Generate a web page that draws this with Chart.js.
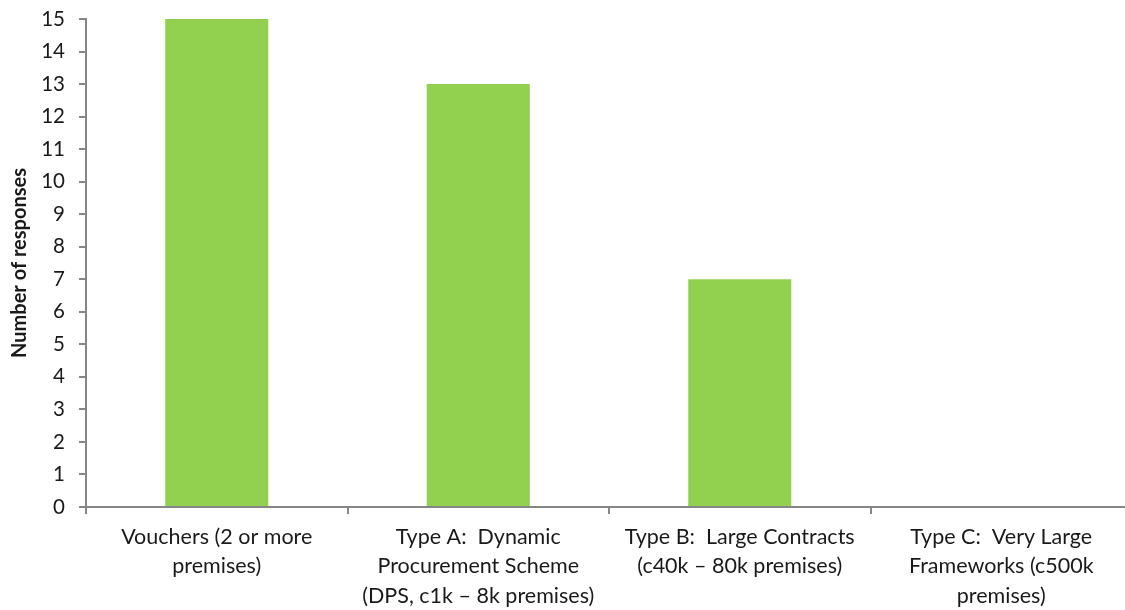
<!DOCTYPE html>
<html>
<head>
<meta charset="utf-8">
<script src="https://cdn.jsdelivr.net/npm/chart.js@4.4.1/dist/chart.umd.min.js"></script>
<style>
  html, body { margin: 0; padding: 0; background: #ffffff; overflow: hidden; }
  /* the plot runs a little past the right edge, the axis line is cut off there */
  #wrap { width: 1132px; height: 610px; position: relative; }
</style>
</head>
<body>
<div id="wrap"><canvas id="responses-chart"></canvas></div>
<script>
// Survey responses by scheme type
const categories = [
    ['Vouchers (2 or more', 'premises)'],
    ['Type A:  Dynamic', 'Procurement Scheme', '(DPS, c1k \u2013 8k premises)'],
    ['Type B:  Large Contracts', '(c40k \u2013 80k premises)'],
    ['Type C:  Very Large', 'Frameworks (c500k', 'premises)']
];
const responses = [15, 13, 7, 0];
const yMin = 0;
const yMax = 15;
const yStep = 1;

const axisColor = '#868686';
const textColor = '#1a1a1a';
const fontFamily = 'Lato, "Open Sans", sans-serif';

const ctx = document.getElementById('responses-chart').getContext('2d');

new Chart(ctx, {
    type: 'bar',
    data: {
        labels: categories,
        datasets: [{
            label: 'Number of responses',
            data: responses,
            backgroundColor: '#92d050',
            borderWidth: 0,
            categoryPercentage: 1.0,
            barPercentage: 0.394
        }]
    },
    options: {
        responsive: true,
        maintainAspectRatio: false,
        animation: false,
        layout: {
            padding: { top: 19, right: 0, bottom: 0, left: 0 }
        },
        plugins: {
            legend: { display: false },
            tooltip: { enabled: false }
        },
        scales: {
            x: {
                grid: {
                    offset: true,
                    drawOnChartArea: false,
                    tickLength: 7,
                    color: axisColor,
                    lineWidth: 2
                },
                border: { color: axisColor, width: 2 },
                ticks: {
                    color: textColor,
                    maxRotation: 0,
                    autoSkip: false,
                    padding: 8,
                    font: { family: fontFamily, size: 21.5, lineHeight: 1.38 }
                },
                afterFit: (scale) => { scale.height = 103; }
            },
            y: {
                min: yMin,
                max: yMax,
                grid: {
                    drawOnChartArea: false,
                    tickLength: 7,
                    color: axisColor,
                    lineWidth: 2
                },
                border: { color: axisColor, width: 2 },
                ticks: {
                    stepSize: yStep,
                    color: textColor,
                    padding: 14,
                    font: { family: fontFamily, size: 20.5 }
                },
                title: {
                    display: true,
                    text: 'Number of responses',
                    color: textColor,
                    padding: { top: 8, bottom: 0 },
                    font: { family: fontFamily, size: 20, weight: 'bold' }
                },
                afterFit: (scale) => {
                    scale.width = 86;
                    // let the layout padding alone decide where the plot starts
                    scale.paddingTop = 0;
                    scale.paddingBottom = 0;
                }
            }
        }
    }
});
</script>
</body>
</html>
